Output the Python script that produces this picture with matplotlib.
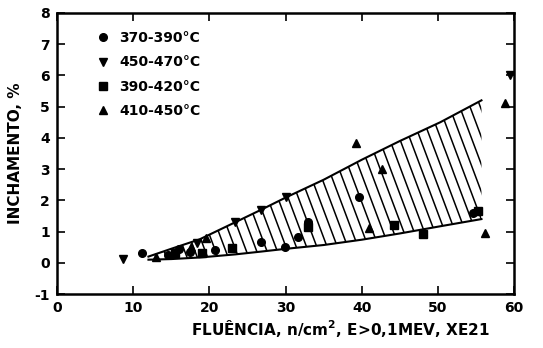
import numpy as np
import matplotlib
matplotlib.use("Agg")
import matplotlib.pyplot as plt

plt.rcParams['font.family'] = ['DejaVu Sans']
plt.rcParams['font.weight'] = 'bold'
plt.rcParams['axes.unicode_minus'] = False

# faixa hachurada (limite superior e inferior)
faixa_x = [12, 15, 18.7, 23.4, 26.8, 30.1, 35, 40, 45, 50.3, 55.7]
faixa_sup = [0.2, 0.45, 0.75, 1.3, 1.7, 2.1, 2.66, 3.3, 3.9, 4.5, 5.2]
faixa_inf = [0.1, 0.12, 0.17, 0.27, 0.36, 0.45, 0.57, 0.74, 0.94, 1.17, 1.4]

# pontos experimentais por faixa de temperatura
circ_x = [11.2, 14.5, 16.0, 17.5, 20.7, 26.8, 29.9, 31.6, 32.9, 39.6, 54.6]
circ_y = [0.3, 0.25, 0.45, 0.35, 0.42, 0.67, 0.5, 0.83, 1.3, 2.1, 1.6]
tri_down_x = [8.6, 18.4, 23.4, 26.8, 30.1, 59.5]
tri_down_y = [0.13, 0.65, 1.3, 1.7, 2.1, 6.0]
quad_x = [15.5, 19.0, 23.0, 32.9, 44.2, 48.0, 55.2]
quad_y = [0.3, 0.3, 0.47, 1.15, 1.22, 0.93, 1.65]
tri_up_x = [13.0, 17.6, 19.6, 39.3, 41.0, 42.7, 56.2, 58.8]
tri_up_y = [0.2, 0.5, 0.8, 3.85, 1.1, 3.0, 0.97, 5.1]

rotulos = ['370-390°C', '450-470°C', '390-420°C', '410-450°C']

fig = plt.figure(figsize=(5.43, 3.48), dpi=100, facecolor='white')
ax = fig.add_axes([0.105, 0.155, 0.842, 0.808])

# faixa: fundo branco e contorno
poly = ax.fill_between(faixa_x, faixa_inf, faixa_sup, facecolor='white',
                       edgecolor='none', zorder=1)
ax.plot(faixa_x, faixa_sup, color='black', lw=1.5, zorder=2)
ax.plot(faixa_x, faixa_inf, color='black', lw=1.5, zorder=2)

# hachuras inclinadas recortadas pela faixa
clip = poly.get_paths()[0]
for x0 in np.arange(0, 70, 1.35):
    ln, = ax.plot([x0, x0 + 10.0], [6.0, -0.5], color='black', lw=1.1, zorder=1.5)
    ln.set_clip_path(clip, ax.transData)

ms = 5.5
ax.plot(circ_x, circ_y, 'o', color='black', ms=ms, label=rotulos[0], zorder=3)
ax.plot(tri_down_x, tri_down_y, 'v', color='black', ms=ms, label=rotulos[1], zorder=3)
ax.plot(quad_x, quad_y, 's', color='black', ms=ms, label=rotulos[2], zorder=3)
ax.plot(tri_up_x, tri_up_y, '^', color='black', ms=ms, label=rotulos[3], zorder=3)

ax.set_xlim(0, 60)
ax.set_ylim(-1, 8)
ax.set_xticks(range(0, 61, 10))
ax.set_yticks(range(-1, 9))
ax.tick_params(direction='in', length=6, width=1.2, top=True, right=True,
               labelsize=10, pad=5)
for s in ax.spines.values():
    s.set_linewidth(1.8)

ax.set_ylabel('INCHAMENTO, %', fontsize=11, fontweight='bold', labelpad=8)
ax.set_xlabel('FLUÊNCIA, n/cm$^\\mathbf{2}$, E>0,1MEV, XE21', fontsize=11,
              fontweight='bold', labelpad=2, x=0.62)

leg = ax.legend(loc='upper left', frameon=False, fontsize=10, handlelength=0.8,
                handletextpad=0.8, labelspacing=0.75, bbox_to_anchor=(0.06, 0.98))

fig.savefig('out.png', dpi=100, facecolor='white')
